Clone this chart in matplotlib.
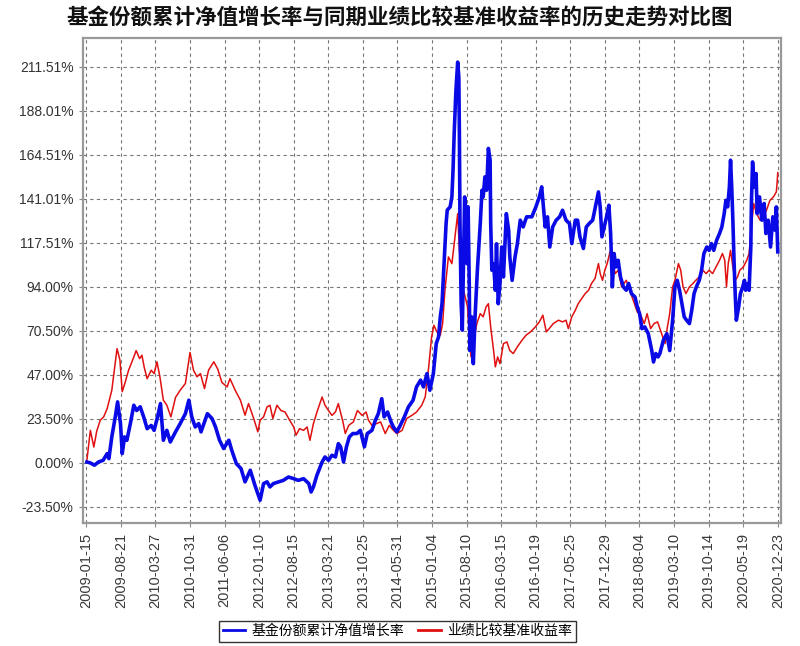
import numpy as np
import pandas as pd
import matplotlib
matplotlib.use("Agg")
import matplotlib.pyplot as plt

plt.rcParams['font.family'] = ['Noto Sans CJK SC', 'DejaVu Sans']

title = "基金份额累计净值增长率与同期业绩比较基准收益率的历史走势对比图"
fund_label = "基金份额累计净值增长率"
bench_label = "业绩比较基准收益率"

# x tick dates (evenly spaced, 218 days apart)
tick_dates = ["2009-01-15", "2009-08-21", "2010-03-27", "2010-10-31", "2011-06-06",
              "2012-01-10", "2012-08-15", "2013-03-21", "2013-10-25", "2014-05-31",
              "2015-01-04", "2015-08-10", "2016-03-15", "2016-10-19", "2017-05-25",
              "2017-12-29", "2018-08-04", "2019-03-10", "2019-10-14", "2020-05-19",
              "2020-12-23"]
y_ticks = [-23.50, 0.00, 23.50, 47.00, 70.50, 94.00, 117.51, 141.01, 164.51, 188.01, 211.51]

# fund cumulative NAV growth (%), x in decimal years
fund_years = [
    2009.05, 2009.11, 2009.18, 2009.25, 2009.33, 2009.40, 2009.43, 2009.48, 2009.54, 2009.58,
    2009.63, 2009.66, 2009.70, 2009.74, 2009.80, 2009.86, 2009.91, 2009.97, 2010.03, 2010.09,
    2010.16, 2010.21, 2010.27, 2010.32, 2010.37, 2010.43, 2010.49, 2010.58, 2010.66, 2010.75,
    2010.81, 2010.86, 2010.92, 2010.98, 2011.02, 2011.08, 2011.13, 2011.21, 2011.27, 2011.34,
    2011.41, 2011.50, 2011.55, 2011.63, 2011.71, 2011.78, 2011.87, 2011.95, 2012.04,
    2012.10, 2012.16, 2012.21, 2012.27, 2012.36, 2012.44, 2012.53, 2012.62, 2012.70, 2012.79,
    2012.88, 2012.92, 2012.96, 2013.02, 2013.11, 2013.16, 2013.22, 2013.28, 2013.34, 2013.39,
    2013.43, 2013.48, 2013.53, 2013.58, 2013.64, 2013.71, 2013.77, 2013.84, 2013.89, 2013.97,
    2014.03, 2014.08, 2014.14, 2014.18, 2014.24, 2014.30, 2014.34, 2014.40, 2014.46, 2014.53,
    2014.60, 2014.68, 2014.74, 2014.81, 2014.86, 2014.92, 2014.97, 2015.03, 2015.08, 2015.12,
    2015.15, 2015.18, 2015.22, 2015.25, 2015.27, 2015.32, 2015.35, 2015.37, 2015.39, 2015.42,
    2015.45, 2015.47, 2015.48, 2015.49, 2015.51, 2015.53, 2015.55, 2015.57, 2015.59, 2015.61,
    2015.63, 2015.65, 2015.66, 2015.69, 2015.72, 2015.75, 2015.79, 2015.84, 2015.87, 2015.89,
    2015.92, 2015.95, 2015.98, 2016.01, 2016.02, 2016.04, 2016.07, 2016.10, 2016.12, 2016.15,
    2016.18, 2016.21, 2016.24, 2016.29, 2016.33, 2016.35, 2016.39, 2016.44, 2016.48, 2016.53,
    2016.58, 2016.64, 2016.73, 2016.80, 2016.86, 2016.90,
    2016.96, 2017.00, 2017.04, 2017.09, 2017.15, 2017.21, 2017.26, 2017.32, 2017.38, 2017.42,
    2017.48, 2017.52, 2017.56, 2017.62, 2017.67, 2017.72, 2017.78, 2017.84, 2017.88, 2017.91,
    2017.94, 2017.98, 2018.02, 2018.06, 2018.09, 2018.12, 2018.15, 2018.18, 2018.22, 2018.26,
    2018.31, 2018.36, 2018.40, 2018.45, 2018.51, 2018.55, 2018.59, 2018.63, 2018.68, 2018.74,
    2018.80, 2018.83, 2018.87, 2018.91,
    2018.94, 2019.00, 2019.06, 2019.11, 2019.16, 2019.20, 2019.24, 2019.28, 2019.32, 2019.36,
    2019.40, 2019.45, 2019.49, 2019.53, 2019.57, 2019.62, 2019.66, 2019.70, 2019.75, 2019.79,
    2019.83, 2019.87, 2019.92, 2019.97, 2020.01, 2020.05, 2020.08, 2020.11, 2020.14, 2020.16,
    2020.18, 2020.20, 2020.22, 2020.24, 2020.26, 2020.30, 2020.33, 2020.37, 2020.40, 2020.42,
    2020.46, 2020.48, 2020.51, 2020.52, 2020.54, 2020.57, 2020.60, 2020.62, 2020.66, 2020.70,
    2020.74, 2020.77, 2020.81, 2020.85, 2020.89, 2020.93, 2020.95, 2020.975]
fund_vals = [
    0.5, 0.0, -1.2, 0.5, 1.4, 5.0, 2.3, 13.9, 24.6, 32.6,
    21.0, 5.0, 13.9, 12.1, 21.0, 30.8, 28.0, 30.0, 24.6, 18.3,
    20.0, 17.4, 24.6, 31.7, 12.1, 17.4, 11.2, 16.6, 21.0, 26.3,
    33.5, 24.6, 19.2, 21.0, 16.6, 21.9, 26.3, 23.7, 19.2, 12.1,
    7.7, 12.1, 6.8, -0.4, -3.0, -10.1, -3.9, -11.9, -19.9,
    -11.0, -10.1, -12.8, -11.0, -10.1, -9.3, -7.5, -8.4, -9.3, -8.4,
    -11.0, -15.5, -12.8, -6.6, 0.5, 3.2, 1.4, 4.1, 3.2, 10.3,
    8.6, 0.5, 8.6, 13.9, 15.7, 15.7, 17.4, 8.6, 15.7, 17.4,
    22.8, 26.3, 34.3, 24.6, 27.2, 21.9, 19.2, 16.6, 20.1, 24.6,
    29.9, 33.5, 40.6, 44.2, 40.6, 47.7, 38.8, 47.7, 63.7, 67.3,
    78.0, 85.0, 110.0, 127.8, 135.0, 136.7, 142.0, 156.3, 176.0, 199.0,
    214.0, 206.0, 174.0, 127.8, 85.0, 70.9, 106.4, 142.0, 135.0, 106.4,
    136.7, 95.8, 60.0, 78.0, 53.0, 78.0, 102.9, 127.8, 145.6, 142.0,
    152.7, 145.6, 167.9, 161.6, 127.8, 102.9, 106.4, 92.2, 117.0, 85.0,
    95.8, 115.3, 99.3, 133.1, 124.2, 110.0, 97.5, 110.0, 117.0, 129.6,
    126.0, 131.4, 131.4, 136.7, 142.0, 147.4,
    126.0, 131.4, 115.3, 126.0, 129.6, 131.4, 134.9, 129.6, 127.8, 117.1,
    129.6, 129.6, 120.7, 114.5, 126.0, 127.8, 129.6, 138.5, 144.7, 136.7,
    120.7, 126.0, 131.4, 137.6, 122.5, 94.0, 111.8, 104.6, 108.2, 99.3,
    94.0, 92.2, 95.8, 90.4, 88.6, 83.3, 79.7, 71.7, 72.6, 69.0,
    60.0, 53.9, 58.4, 56.6,
    58.4, 65.5, 69.0, 60.0, 76.2, 94.0, 97.5, 92.2, 85.0, 78.0,
    76.2, 74.4, 81.5, 90.4, 94.0, 97.5, 102.9, 111.8, 115.3, 113.5,
    117.1, 113.5, 118.9, 122.5, 126.0, 133.1, 140.2, 136.7, 147.4, 161.6,
    147.4, 129.6, 108.2, 90.4, 76.2, 83.3, 90.4, 94.0, 97.5, 92.2,
    95.8, 92.2, 115.3, 138.5, 160.7, 147.4, 154.5, 133.1, 142.0, 129.6,
    138.5, 122.5, 129.6, 115.3, 131.4, 124.2, 136.7, 112.7]

# benchmark return (%)
bench_years = [
    2009.05, 2009.11, 2009.17, 2009.22, 2009.28, 2009.34, 2009.40, 2009.48, 2009.57, 2009.62,
    2009.66, 2009.71, 2009.77, 2009.86, 2009.90, 2009.96, 2010.00, 2010.04, 2010.09, 2010.16,
    2010.21, 2010.26, 2010.31, 2010.37, 2010.43, 2010.50, 2010.58, 2010.66, 2010.75, 2010.83,
    2010.89, 2010.95, 2011.01, 2011.08, 2011.15, 2011.24, 2011.31, 2011.38, 2011.47, 2011.52,
    2011.61, 2011.70, 2011.78, 2011.84, 2011.93, 2012.00,
    2012.04, 2012.10, 2012.16, 2012.21, 2012.26, 2012.33, 2012.40, 2012.47, 2012.55, 2012.62,
    2012.66, 2012.72, 2012.79, 2012.85, 2012.90, 2012.96, 2013.03, 2013.11, 2013.16, 2013.22,
    2013.28, 2013.34, 2013.39, 2013.47, 2013.51, 2013.57, 2013.65, 2013.72, 2013.80, 2013.87,
    2013.91, 2013.97, 2014.05, 2014.12, 2014.20, 2014.27, 2014.34, 2014.40, 2014.49, 2014.57,
    2014.66, 2014.74, 2014.83, 2014.89, 2014.95, 2015.00, 2015.04, 2015.09, 2015.15,
    2015.19, 2015.23, 2015.29, 2015.35, 2015.39, 2015.45, 2015.48, 2015.52, 2015.58, 2015.62,
    2015.65, 2015.68, 2015.72, 2015.78, 2015.84, 2015.89, 2015.94, 2015.98, 2016.02, 2016.07,
    2016.10, 2016.14, 2016.18, 2016.24, 2016.30, 2016.35, 2016.41, 2016.48, 2016.56, 2016.63,
    2016.71, 2016.79, 2016.86, 2016.92,
    2016.98, 2017.03, 2017.10, 2017.19, 2017.26, 2017.32, 2017.36, 2017.42, 2017.48, 2017.53,
    2017.59, 2017.65, 2017.71, 2017.76, 2017.82, 2017.88, 2017.91, 2017.95, 2017.99, 2018.03,
    2018.08, 2018.13, 2018.17, 2018.22, 2018.28, 2018.36, 2018.42, 2018.49, 2018.55, 2018.61,
    2018.67, 2018.72, 2018.78, 2018.84, 2018.90, 2018.95,
    2019.03, 2019.07, 2019.11, 2019.16, 2019.20, 2019.26, 2019.30, 2019.34, 2019.39, 2019.45,
    2019.51, 2019.56, 2019.62, 2019.68, 2019.74, 2019.79, 2019.85, 2019.91, 2019.97, 2020.02,
    2020.06, 2020.09, 2020.12, 2020.16, 2020.20, 2020.24, 2020.28, 2020.32, 2020.38, 2020.44,
    2020.48, 2020.52, 2020.56, 2020.61, 2020.67, 2020.72, 2020.78, 2020.84, 2020.90, 2020.95,
    2020.96, 2020.975]
bench_vals = [
    1.4, 17.4, 8.5, 17.0, 22.8, 24.6, 29.0, 38.8, 61.0, 55.0,
    38.0, 43.0, 49.5, 56.6, 60.0, 55.7, 57.5, 51.0, 45.0, 49.5,
    47.7, 54.0, 46.0, 33.5, 30.8, 24.6, 35.0, 38.8, 42.4, 59.0,
    49.5, 46.0, 47.7, 39.7, 49.5, 54.0, 50.0, 43.0, 40.6, 45.0,
    38.8, 33.5, 25.5, 31.7, 23.7, 16.6,
    22.8, 24.6, 29.9, 30.8, 23.7, 30.8, 28.0, 27.2, 22.8, 19.2,
    14.8, 18.3, 17.4, 19.2, 12.1, 21.0, 28.0, 35.2, 30.8, 28.0,
    25.4, 27.2, 31.7, 21.9, 15.7, 20.1, 21.9, 28.0, 25.4, 27.2,
    22.8, 20.1, 21.0, 21.9, 15.7, 20.1, 17.4, 15.7, 17.4, 23.7,
    25.4, 27.2, 30.8, 35.2, 51.3, 67.3, 73.5, 70.0, 68.2,
    74.4, 92.2, 110.0, 106.4, 117.0, 133.1, 113.5, 95.8, 88.6, 83.3,
    69.0, 56.6, 63.7, 74.4, 79.7, 78.0, 83.3, 85.0, 72.6, 60.0,
    51.3, 56.6, 53.0, 63.7, 64.6, 60.0, 58.4, 62.0, 65.5, 68.2,
    70.0, 72.6, 75.3, 78.9,
    70.0, 71.7, 74.4, 76.2, 75.3, 76.2, 71.7, 78.0, 81.5, 85.0,
    87.7, 90.4, 92.2, 95.8, 98.4, 106.4, 101.1, 97.5, 102.9, 106.4,
    112.7, 106.4, 101.1, 102.9, 94.0, 97.5, 92.2, 86.0, 80.6, 78.9,
    74.4, 79.7, 71.7, 74.4, 75.3, 70.9,
    63.7, 72.6, 79.7, 94.0, 97.5, 106.4, 102.9, 94.0, 90.4, 94.0,
    95.8, 97.5, 99.3, 102.9, 101.1, 102.9, 101.1, 104.6, 108.2, 111.8,
    108.2, 94.0, 106.4, 113.5, 104.6, 97.5, 99.3, 102.9, 104.6, 108.2,
    111.8, 126.0, 138.5, 133.1, 129.6, 131.4, 134.9, 140.2, 142.0, 144.7,
    148.0, 155.0]


def to_dates(years):
    years = np.asarray(years, dtype=float)
    return pd.Timestamp("2009-01-01") + pd.to_timedelta((years - 2009) * 365.25, unit="D")


fig = plt.figure(figsize=(8.0, 6.46), dpi=100)
ax = fig.add_axes([0.104, 0.19, 0.872, 0.751])

ax.plot(to_dates(bench_years), bench_vals, color="#e01010", linewidth=1.1, zorder=3, label=bench_label)
ax.plot(to_dates(fund_years), fund_vals, color="#0a0ae6", linewidth=2.6, zorder=4, label=fund_label)

ticks = pd.to_datetime(tick_dates)
pad = pd.Timedelta(days=19)
ax.set_xlim(ticks[0] - pad, ticks[-1] + pad)
ax.set_ylim(-32.2, 226.8)

ax.set_xticks(ticks)
ax.set_xticklabels(tick_dates, rotation=90, fontsize=10.5, color="#3a3a3a",
                   family=["Liberation Sans", "DejaVu Sans"])
ax.set_yticks(y_ticks)
ax.set_yticklabels(["%.2f%%" % v for v in y_ticks], fontsize=10, color="#333333",
                   family=["Liberation Sans", "DejaVu Sans"])
ax.tick_params(length=3, color="#888888", pad=4)

ax.grid(True, linestyle=(0, (3, 3)), color="#777777", linewidth=0.8)
ax.set_axisbelow(True)
for s in ax.spines.values():
    s.set_color("#999999")
    s.set_linewidth(1.6)

fig.text(0.5, 0.974, title, ha="center", va="center", fontsize=15.5, fontweight="bold", color="#111111")

# legend with fund line first
handles, labels = ax.get_legend_handles_labels()
leg = fig.legend(handles[::-1], labels[::-1], loc="center", bbox_to_anchor=(0.497, 0.023), ncol=2,
                 fontsize=10, frameon=True, fancybox=False, edgecolor="black",
                 handlelength=1.6, columnspacing=1.0, borderpad=0.25, handletextpad=0.5)
leg.get_frame().set_linewidth(1.0)
for line in leg.get_lines():
    line.set_linewidth(2.0)

fig.savefig("out.png", dpi=100)
